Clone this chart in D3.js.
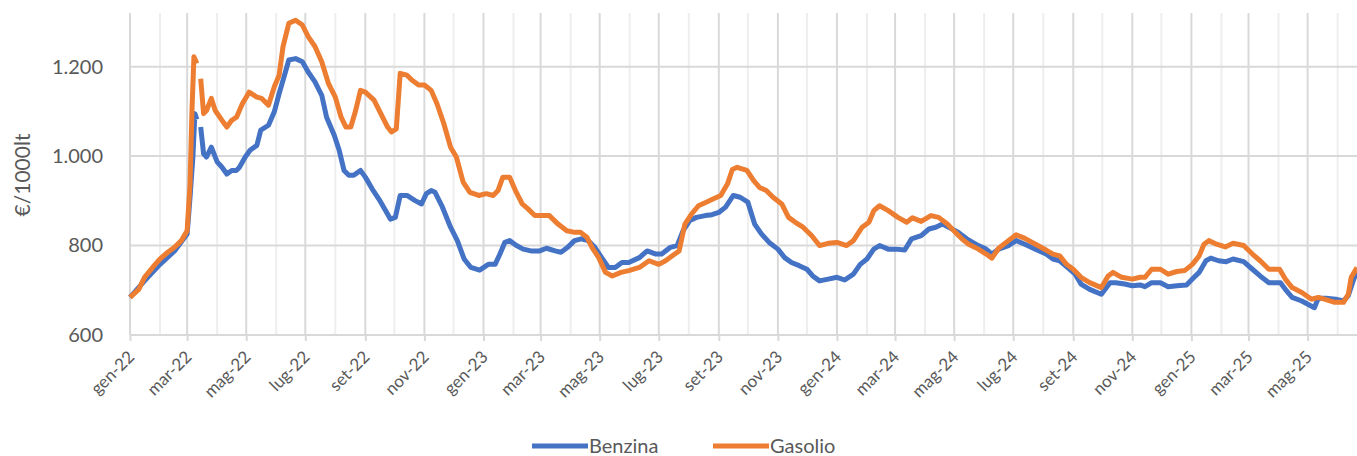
<!DOCTYPE html>
<html>
<head>
<meta charset="utf-8">
<script src="https://cdn.jsdelivr.net/npm/d3@7"></script>
<style>
  body { margin: 0; background: #fff; }
  text { font-family: Lato, "Liberation Sans", sans-serif; fill: #595959; }
</style>
</head>
<body>
<svg width="1357" height="456"></svg>
<script>
var mesi = ["gen", "feb", "mar", "apr", "mag", "giu", "lug", "ago", "set", "ott", "nov", "dic"];
var yTicks = [600, 800, 1000, 1200];
var seriesNames = ["Benzina", "Gasolio"];
var seriesColors = ["#4472C4", "#ED7D31"];

// prezzi medi settimanali, €/1000lt (null = dato mancante)
var benzina = [
  ["2022-01-01",684],["2022-01-16",721],["2022-02-01",758],["2022-02-16",788],["2022-03-01",826],
  ["2022-03-04",908],["2022-03-07",1000],["2022-03-09",1095],["2022-03-11",1082],["2022-03-13",null],
  ["2022-03-15",1065],["2022-03-18",1005],["2022-03-21",998],["2022-03-26",1020],["2022-04-01",987],
  ["2022-04-06",975],["2022-04-11",960],["2022-04-16",968],["2022-04-21",968],["2022-04-24",975],
  ["2022-04-30",998],["2022-05-05",1013],["2022-05-12",1024],["2022-05-16",1058],["2022-05-24",1069],
  ["2022-05-30",1099],["2022-06-04",1140],["2022-06-09",1177],["2022-06-14",1215],["2022-06-21",1218],
  ["2022-06-28",1211],["2022-07-04",1188],["2022-07-11",1166],["2022-07-18",1136],["2022-07-23",1087],
  ["2022-07-31",1046],["2022-08-05",1013],["2022-08-10",968],["2022-08-15",957],["2022-08-20",957],
  ["2022-08-27",968],["2022-09-01",953],["2022-09-08",927],["2022-09-15",904],["2022-09-22",878],
  ["2022-09-27",859],["2022-10-02",863],["2022-10-07",912],["2022-10-14",912],["2022-10-22",901],
  ["2022-10-29",893],["2022-11-03",916],["2022-11-08",923],["2022-11-12",919],["2022-11-19",889],
  ["2022-11-28",841],["2022-12-05",811],["2022-12-12",770],["2022-12-19",751],["2022-12-28",745],
  ["2023-01-06",758],["2023-01-13",758],["2023-01-18",781],["2023-01-23",807],["2023-01-28",811],
  ["2023-02-04",800],["2023-02-11",792],["2023-02-19",788],["2023-02-28",788],["2023-03-07",794],
  ["2023-03-16",788],["2023-03-22",785],["2023-03-29",796],["2023-04-05",811],["2023-04-12",815],
  ["2023-04-19",811],["2023-04-26",796],["2023-05-03",773],["2023-05-10",751],["2023-05-17",751],
  ["2023-05-24",762],["2023-05-31",762],["2023-06-11",773],["2023-06-19",788],["2023-06-28",781],
  ["2023-07-04",781],["2023-07-13",796],["2023-07-20",800],["2023-07-26",833],["2023-08-02",856],
  ["2023-08-09",863],["2023-08-18",867],["2023-08-25",869],["2023-09-01",874],["2023-09-08",886],
  ["2023-09-16",912],["2023-09-23",908],["2023-10-01",897],["2023-10-08",848],["2023-10-15",826],
  ["2023-10-23",807],["2023-11-01",792],["2023-11-08",773],["2023-11-15",762],["2023-11-23",755],
  ["2023-12-01",747],["2023-12-07",732],["2023-12-14",721],["2023-12-23",725],["2024-01-01",729],
  ["2024-01-09",723],["2024-01-18",736],["2024-01-25",758],["2024-02-01",770],["2024-02-08",792],
  ["2024-02-14",800],["2024-02-23",792],["2024-03-02",792],["2024-03-11",790],["2024-03-18",815],
  ["2024-03-28",822],["2024-04-05",837],["2024-04-12",841],["2024-04-19",848],["2024-04-27",839],
  ["2024-05-05",830],["2024-05-14",815],["2024-05-26",800],["2024-06-03",792],["2024-06-09",781],
  ["2024-06-16",792],["2024-06-26",800],["2024-07-04",811],["2024-07-13",803],["2024-07-24",792],
  ["2024-08-04",781],["2024-08-11",770],["2024-08-18",766],["2024-08-26",751],["2024-09-03",736],
  ["2024-09-09",714],["2024-09-18",702],["2024-09-30",691],["2024-10-09",717],["2024-10-15",717],
  ["2024-10-24",714],["2024-11-01",710],["2024-11-09",712],["2024-11-14",708],["2024-11-21",717],
  ["2024-11-30",717],["2024-12-08",708],["2024-12-17",710],["2024-12-27",712],["2025-01-02",725],
  ["2025-01-09",740],["2025-01-16",766],["2025-01-21",772],["2025-01-29",766],["2025-02-06",764],
  ["2025-02-13",770],["2025-02-24",764],["2025-03-05",747],["2025-03-13",732],["2025-03-22",717],
  ["2025-04-03",717],["2025-04-08",702],["2025-04-15",684],["2025-04-25",676],["2025-05-08",661],
  ["2025-05-12",682],["2025-05-20",682],["2025-05-30",680],["2025-06-07",676],["2025-06-12",688],
  ["2025-06-17",721],["2025-06-21",744]
];

var gasolio = [
  ["2022-01-01",684],["2022-01-10",702],["2022-01-16",729],["2022-01-27",758],["2022-02-01",770],
  ["2022-02-09",785],["2022-02-16",796],["2022-02-23",811],["2022-03-01",833],["2022-03-04",938],
  ["2022-03-06",1102],["2022-03-08",1222],["2022-03-11",1207],["2022-03-13",null],["2022-03-15",1173],
  ["2022-03-18",1095],["2022-03-21",1102],["2022-03-26",1129],["2022-03-30",1102],["2022-04-06",1080],
  ["2022-04-11",1065],["2022-04-16",1080],["2022-04-21",1087],["2022-04-27",1117],["2022-05-04",1143],
  ["2022-05-12",1132],["2022-05-17",1129],["2022-05-24",1114],["2022-05-30",1155],["2022-06-04",1181],
  ["2022-06-08",1245],["2022-06-14",1297],["2022-06-21",1304],["2022-06-28",1293],["2022-07-04",1267],
  ["2022-07-11",1245],["2022-07-18",1211],["2022-07-25",1162],["2022-08-01",1132],["2022-08-07",1087],
  ["2022-08-12",1065],["2022-08-17",1065],["2022-08-22",1102],["2022-08-27",1147],["2022-09-01",1143],
  ["2022-09-10",1125],["2022-09-17",1095],["2022-09-24",1065],["2022-09-28",1054],["2022-10-03",1061],
  ["2022-10-07",1185],["2022-10-14",1181],["2022-10-19",1170],["2022-10-26",1159],["2022-11-01",1159],
  ["2022-11-08",1147],["2022-11-14",1117],["2022-11-21",1073],["2022-11-28",1020],["2022-12-04",998],
  ["2022-12-11",942],["2022-12-18",919],["2022-12-27",912],["2023-01-04",916],["2023-01-11",912],
  ["2023-01-16",923],["2023-01-21",953],["2023-01-28",953],["2023-02-03",923],["2023-02-10",893],
  ["2023-02-16",882],["2023-02-23",867],["2023-03-04",867],["2023-03-10",867],["2023-03-19",848],
  ["2023-03-28",833],["2023-04-04",830],["2023-04-11",830],["2023-04-18",818],["2023-04-23",796],
  ["2023-04-30",773],["2023-05-07",740],["2023-05-14",732],["2023-05-23",740],["2023-05-31",744],
  ["2023-06-11",751],["2023-06-21",766],["2023-07-01",758],["2023-07-08",766],["2023-07-15",777],
  ["2023-07-22",788],["2023-07-28",848],["2023-08-04",871],["2023-08-11",889],["2023-08-19",897],
  ["2023-08-26",904],["2023-09-03",912],["2023-09-10",938],["2023-09-15",970],["2023-09-20",975],
  ["2023-09-30",968],["2023-10-07",945],["2023-10-13",930],["2023-10-20",923],["2023-10-27",908],
  ["2023-11-05",893],["2023-11-12",863],["2023-11-19",852],["2023-11-27",841],["2023-12-06",822],
  ["2023-12-14",800],["2023-12-23",805],["2024-01-01",807],["2024-01-11",800],["2024-01-18",811],
  ["2024-01-27",841],["2024-02-03",852],["2024-02-08",878],["2024-02-14",889],["2024-02-23",878],
  ["2024-03-04",863],["2024-03-13",852],["2024-03-19",862],["2024-03-28",854],["2024-04-07",867],
  ["2024-04-15",863],["2024-04-24",848],["2024-05-02",830],["2024-05-09",815],["2024-05-16",803],
  ["2024-05-26",792],["2024-06-03",781],["2024-06-09",772],["2024-06-16",794],["2024-06-26",811],
  ["2024-07-04",824],["2024-07-13",816],["2024-07-24",803],["2024-08-04",790],["2024-08-11",781],
  ["2024-08-18",777],["2024-08-25",758],["2024-09-01",747],["2024-09-09",729],["2024-09-18",717],
  ["2024-09-30",706],["2024-10-07",732],["2024-10-12",740],["2024-10-21",729],["2024-11-01",725],
  ["2024-11-09",729],["2024-11-14",729],["2024-11-21",747],["2024-11-30",747],["2024-12-08",736],
  ["2024-12-17",742],["2024-12-25",744],["2025-01-02",758],["2025-01-09",777],["2025-01-14",803],
  ["2025-01-19",811],["2025-01-27",803],["2025-02-05",797],["2025-02-13",805],["2025-02-24",800],
  ["2025-03-05",781],["2025-03-13",766],["2025-03-22",747],["2025-04-02",747],["2025-04-08",725],
  ["2025-04-15",706],["2025-04-25",695],["2025-05-05",680],["2025-05-12",684],["2025-05-20",679],
  ["2025-05-29",673],["2025-06-07",673],["2025-06-12",691],["2025-06-15",729],["2025-06-21",751]
];

var svg = d3.select("svg"),
    width = +svg.attr("width"),
    height = +svg.attr("height");

var plotLeft = 130, plotRight = 1357, plotTop = 13, plotBottom = 335;
var parse = d3.timeParse("%Y-%m-%d");

var x = d3.scaleTime()
    .domain([new Date(2022, 0, 1), new Date(2025, 5, 21)])
    .range([plotLeft, plotRight]);

var y = d3.scaleLinear()
    .domain([600, 1320])
    .range([plotBottom, plotTop]);

var itFormat = d3.formatLocale({decimal: ",", thousands: ".", grouping: [3], currency: ["€", ""]}).format(",");

var months = d3.timeMonth.range(new Date(2022, 0, 1), new Date(2025, 6, 1));
var labelMonths = months.filter(function(d) { return d.getMonth() % 2 === 0; });

// griglia verticale (mesi)
svg.append("g")
  .selectAll("line")
  .data(months)
  .enter().append("line")
    .attr("x1", function(d) { return x(d); })
    .attr("x2", function(d) { return x(d); })
    .attr("y1", plotTop)
    .attr("y2", plotBottom)
    .attr("stroke", function(d) { return d.getMonth() % 2 === 0 ? "#d9d9d9" : "#eeeeee"; })
    .attr("stroke-width", 2);

// griglia orizzontale
svg.append("g")
  .selectAll("line")
  .data(yTicks)
  .enter().append("line")
    .attr("x1", plotLeft)
    .attr("x2", plotRight)
    .attr("y1", function(d) { return y(d); })
    .attr("y2", function(d) { return y(d); })
    .attr("stroke", "#d9d9d9")
    .attr("stroke-width", 2);

var yAxis = svg.append("g")
    .attr("transform", "translate(" + plotLeft + ",0)")
    .call(d3.axisLeft(y).tickValues(yTicks).tickFormat(itFormat).tickSize(0).tickPadding(27));
yAxis.select(".domain").remove();
yAxis.selectAll("text")
    .style("font-size", "20px")
    .attr("fill", "#595959");

var xAxis = svg.append("g")
    .attr("transform", "translate(0," + plotBottom + ")")
    .call(d3.axisBottom(x).tickValues(labelMonths).tickSize(6)
      .tickFormat(function(d) { return mesi[d.getMonth()] + "-" + String(d.getFullYear()).slice(2); }));
xAxis.select(".domain").remove();
xAxis.selectAll(".tick line").attr("stroke", "#d9d9d9").attr("stroke-width", 2);
xAxis.selectAll("text")
    .style("font-size", "17px")
    .attr("fill", "#595959")
    .attr("text-anchor", "end")
    .attr("dy", null)
    .attr("y", 0)
    .attr("transform", "translate(5,23) rotate(-45)");

svg.append("text")
    .attr("transform", "translate(30,175) rotate(-90)")
    .attr("text-anchor", "middle")
    .style("font-size", "21px")
    .text("€/1000lt");

var line = d3.line()
    .defined(function(d) { return d[1] !== null; })
    .x(function(d) { return x(parse(d[0])); })
    .y(function(d) { return y(d[1]); });

svg.append("g")
  .selectAll("path")
  .data([benzina, gasolio])
  .enter().append("path")
    .attr("d", line)
    .attr("fill", "none")
    .attr("stroke", function(d, i) { return seriesColors[i]; })
    .attr("stroke-width", 5)
    .attr("stroke-linejoin", "round");

var legend = svg.append("g")
  .selectAll("g")
  .data(seriesNames)
  .enter().append("g")
    .attr("transform", function(d, i) { return "translate(" + (532 + i * 181) + ",446)"; });

legend.append("line")
    .attr("x1", 0)
    .attr("x2", 56)
    .attr("stroke", function(d, i) { return seriesColors[i]; })
    .attr("stroke-width", 5);

legend.append("text")
    .attr("x", 57)
    .attr("y", 6.5)
    .style("font-size", "20px")
    .text(function(d) { return d; });
</script>
</body>
</html>
